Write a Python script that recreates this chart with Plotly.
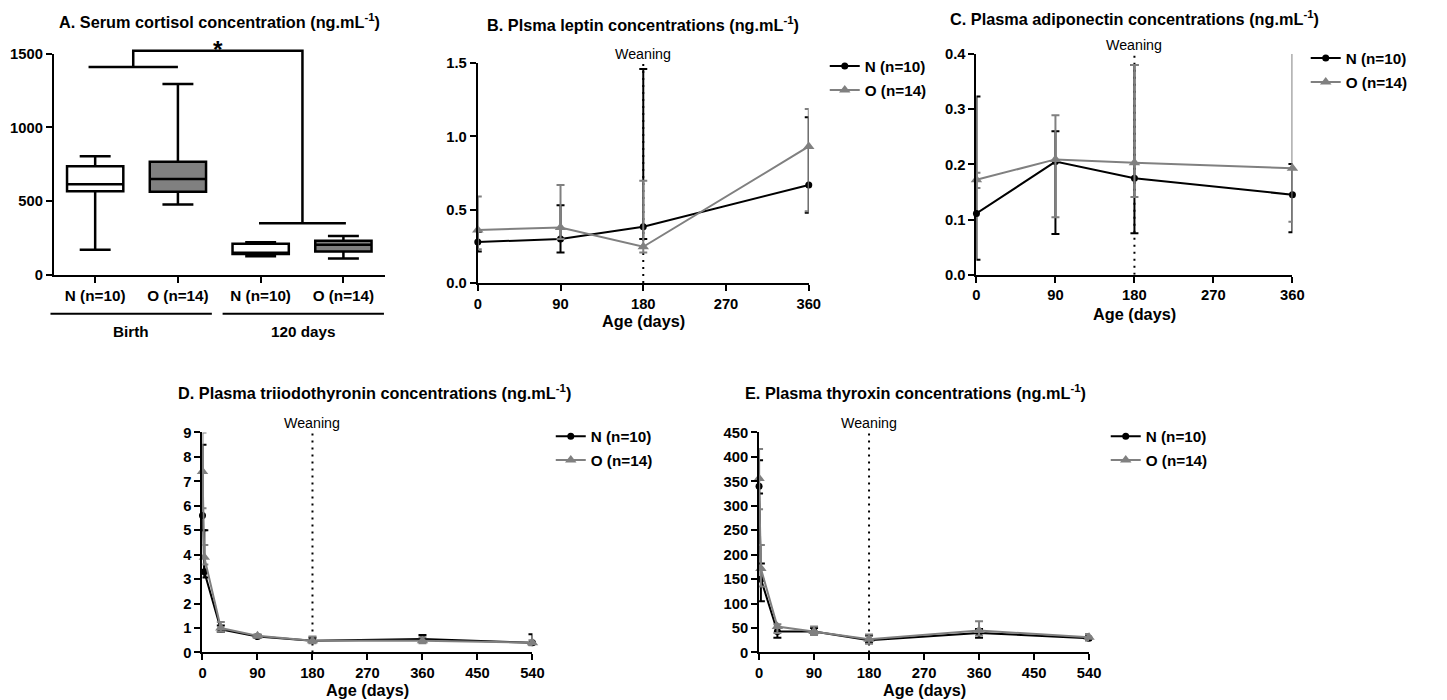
import plotly.graph_objects as go

W, H = 1447, 700

# ---------------- Data ----------------
a_labels = ["N (n=10)", "O (n=14)", "N (n=10)", "O (n=14)"]
a_min = [170, 476, 125, 111]
a_q1 = [566, 564, 140, 158]
a_med = [614, 650, 150, 204]
a_q3 = [736, 766, 210, 231]
a_max = [804, 1295, 220, 263]
a_periods = ["Birth", "120 days"]

days_bc = [0, 90, 180, 360]
lep_N = [0.28, 0.30, 0.384, 0.668]
lep_N_hi = [0.35, 0.53, 1.46, 1.13]
lep_N_lo = [0.215, 0.209, 0.30, 0.48]
lep_O = [0.361, 0.379, 0.247, 0.931]
lep_O_hi = [0.59, 0.668, 0.698, 1.186]
lep_O_lo = [0.23, 0.30, 0.209, 0.49]

adi_N = [0.111, 0.205, 0.175, 0.145]
adi_N_hi = [0.323, 0.26, 0.38, 0.2006]
adi_N_lo = [0.027, 0.074, 0.075, 0.077]
adi_O = [0.172, 0.209, 0.203, 0.193]
adi_O_hi = [0.185, 0.289, 0.38, 0.50]
adi_O_lo = [0.157, 0.104, 0.141, 0.096]

days_de = [0, 3, 30, 90, 180, 360, 540]
t3_N = [5.6, 3.3, 0.95, 0.65, 0.48, 0.55, 0.40]
t3_N_hi = [8.5, 5.0, 1.10, 0.72, 0.60, 0.72, 0.75]
t3_N_lo = [5.0, 3.07, 0.85, 0.60, 0.42, 0.45, 0.32]
t3_O = [7.4, 3.9, 1.00, 0.68, 0.48, 0.48, 0.40]
t3_O_hi = [9.0, 4.4, 1.25, 0.75, 0.65, 0.62, 0.50]
t3_O_lo = [5.9, 3.6, 0.85, 0.60, 0.38, 0.38, 0.30]

t4_N = [340, 150, 43, 43, 25, 40, 29]
t4_N_hi = [393, 182, 50, 50, 35, 48, 33]
t4_N_lo = [325, 105, 30, 37, 20, 30, 25]
t4_O = [356, 172, 53, 43, 27, 45, 31]
t4_O_hi = [416, 220, 58, 53, 37, 64, 38]
t4_O_lo = [293, 135, 40, 37, 18, 35, 25]

weaning_day = 180
series_names = ["N (n=10)", "O (n=14)"]

FONT = "Liberation Sans, Arial, sans-serif"
BLACK = "#000000"
GRAY = "#808080"

# measured mapping from figure pixels to the photographed picture
SX, SY, OX, OY = 0.989, 0.977, 11.2, 15.3
FS = 1.0 / ((SX + SY) / 2)


def fs(v):
    return round(v * FS, 2)


def px(x):
    return ((x - OX) / SX) / W


def py(y):
    return 1 - ((y - OY) / SY) / H


def xdom(a, b):
    return [px(a), px(b)]


def ydom(top, bottom):
    return [py(bottom), py(top)]


def axis_style(**kw):
    d = dict(showline=True, linecolor=BLACK, linewidth=2, ticks="outside",
             ticklen=6, tickwidth=2, tickcolor=BLACK, showgrid=False,
             zeroline=False, fixedrange=True,
             tickfont=dict(family=FONT, size=fs(14.5), color=BLACK, weight="bold"))
    d.update(kw)
    return d


# target picture pixel boxes: (left, right, top, bottom)
PA = (53, 384, 53, 274)
PB = (477, 808, 62.3, 282.3)
PC = (975.7, 1291.7, 53.3, 274)
PD = (201.7, 531.7, 431.7, 651.7)
PE = (758.3, 1088.3, 431.7, 651.7)

A_XR = [-0.5, 3.5]
A_YR = [0, 1500]


def a_to_paper(xv, yv):
    l, r, t, b = PA
    xpix = l + (xv - A_XR[0]) / (A_XR[1] - A_XR[0]) * (r - l)
    ypix = b - (yv - A_YR[0]) / (A_YR[1] - A_YR[0]) * (b - t)
    return px(xpix), py(ypix)


fig = go.Figure()

a_pos = list(range(len(a_labels)))
for idxs, fill in (([0, 2], "white"), ([1, 3], GRAY)):
    fig.add_trace(go.Box(
        x=[a_pos[i] for i in idxs],
        q1=[a_q1[i] for i in idxs], median=[a_med[i] for i in idxs],
        q3=[a_q3[i] for i in idxs],
        lowerfence=[a_min[i] for i in idxs], upperfence=[a_max[i] for i in idxs],
        fillcolor=fill, line=dict(color=BLACK, width=2.5), width=0.68,
        whiskerwidth=0.55, boxpoints=False, showlegend=False, hoverinfo="skip",
        xaxis="x", yaxis="y"))


def add_series(xs, ys, hi, lo, color, symbol, msize, xa, ya, leg, name, grp):
    fig.add_trace(go.Scatter(
        x=xs, y=ys, name=name, mode="lines+markers",
        line=dict(color=color, width=2),
        marker=dict(symbol=symbol, size=msize, color=color),
        error_y=dict(type="data", symmetric=False,
                     array=[h - v for h, v in zip(hi, ys)],
                     arrayminus=[v - l for v, l in zip(ys, lo)],
                     color=color, thickness=2, width=4),
        xaxis=xa, yaxis=ya, legend=leg, legendgroup=grp, cliponaxis=False))


panels = [
    ("x2", "y2", "legend", days_bc, lep_N, lep_N_hi, lep_N_lo, lep_O, lep_O_hi, lep_O_lo),
    ("x3", "y3", "legend2", days_bc, adi_N, adi_N_hi, adi_N_lo, adi_O, adi_O_hi, adi_O_lo),
    ("x4", "y4", "legend3", days_de, t3_N, t3_N_hi, t3_N_lo, t3_O, t3_O_hi, t3_O_lo),
    ("x5", "y5", "legend4", days_de, t4_N, t4_N_hi, t4_N_lo, t4_O, t4_O_hi, t4_O_lo),
]
for xa, ya, leg, xs, nN, nhi, nlo, oO, ohi, olo in panels:
    add_series(xs, nN, nhi, nlo, BLACK, "circle", 7, xa, ya, leg, series_names[0], leg + "N")
    add_series(xs, oO, ohi, olo, GRAY, "triangle-up", 10, xa, ya, leg, series_names[1], leg + "O")

fig.update_layout(
    xaxis=axis_style(domain=xdom(PA[0], PA[1]), range=A_XR, tickvals=a_pos,
                     ticktext=a_labels, anchor="y",
                     tickfont=dict(family=FONT, size=fs(15), color=BLACK, weight="bold")),
    yaxis=axis_style(domain=ydom(PA[2], PA[3]), range=A_YR,
                     tickvals=[0, 500, 1000, 1500], anchor="x"),
    xaxis2=axis_style(domain=xdom(PB[0], PB[1]), range=[0, 360],
                      tickvals=[0, 90, 180, 270, 360], anchor="y2"),
    yaxis2=axis_style(domain=ydom(PB[2], PB[3]), range=[0, 1.5],
                      tickvals=[0, 0.5, 1.0, 1.5], tickformat=".1f", anchor="x2"),
    xaxis3=axis_style(domain=xdom(PC[0], PC[1]), range=[0, 360],
                      tickvals=[0, 90, 180, 270, 360], anchor="y3"),
    yaxis3=axis_style(domain=ydom(PC[2], PC[3]), range=[0, 0.4],
                      tickvals=[0, 0.1, 0.2, 0.3, 0.4], tickformat=".1f", anchor="x3"),
    xaxis4=axis_style(domain=xdom(PD[0], PD[1]), range=[0, 540],
                      tickvals=list(range(0, 541, 90)), anchor="y4"),
    yaxis4=axis_style(domain=ydom(PD[2], PD[3]), range=[0, 9],
                      tickvals=list(range(0, 10)), anchor="x4"),
    xaxis5=axis_style(domain=xdom(PE[0], PE[1]), range=[0, 540],
                      tickvals=list(range(0, 541, 90)), anchor="y5"),
    yaxis5=axis_style(domain=ydom(PE[2], PE[3]), range=[0, 450],
                      tickvals=list(range(0, 451, 50)), anchor="x5"),
)

leg_common = dict(font=dict(family=FONT, size=fs(15), color=BLACK, weight="bold"),
                  bgcolor="rgba(0,0,0,0)", xanchor="left", yanchor="top",
                  traceorder="grouped", tracegroupgap=1, itemwidth=30)
fig.update_layout(
    legend=dict(x=px(824), y=py(49), **leg_common),
    legend2=dict(x=px(1305), y=py(41), **leg_common),
    legend3=dict(x=px(550), y=py(419), **leg_common),
    legend4=dict(x=px(1105), y=py(419), **leg_common),
)

ann = []
title_font = dict(family=FONT, size=fs(16), color=BLACK, weight="bold")
titles = [
    ("A. Serum cortisol concentration (ng.mL<sup>-1</sup>)", 219, 20),
    ("B. Plsma leptin concentrations (ng.mL<sup>-1</sup>)", 642, 23),
    ("C. Plasma adiponectin concentrations (ng.mL<sup>-1</sup>)", 1134, 17),
    ("D. Plasma triiodothyronin concentrations (ng.mL<sup>-1</sup>)", 374, 391),
    ("E. Plasma thyroxin concentrations (ng.mL<sup>-1</sup>)", 915, 391),
]
for t, cx, cy in titles:
    ann.append(dict(text=t, x=px(cx), y=py(cy), xref="paper", yref="paper",
                    showarrow=False, xanchor="center", yanchor="middle", font=title_font))

age_font = dict(family=FONT, size=fs(16), color=BLACK, weight="bold")
for (l, r, t, b), yy in ((PB, 320), (PC, 313), (PD, 689), (PE, 689)):
    ann.append(dict(text="Age (days)", x=px((l + r) / 2), y=py(yy), xref="paper",
                    yref="paper", showarrow=False, xanchor="center", yanchor="middle",
                    font=age_font))

shapes = []
for xa, ya, ytop in (("x2", "y2", 1.5), ("x3", "y3", 0.4), ("x4", "y4", 9), ("x5", "y5", 450)):
    shapes.append(dict(type="line", xref=xa, yref=ya, x0=weaning_day, x1=weaning_day,
                       y0=0, y1=ytop, line=dict(color=BLACK, width=2, dash="2px,5px"),
                       layer="below"))
    ann.append(dict(text="Weaning", x=weaning_day, y=ytop, xref=xa, yref=ya,
                    showarrow=False, xanchor="center", yanchor="bottom", yshift=-1,
                    font=dict(family=FONT, size=fs(14), color=BLACK)))

birth_lo, birth_hi = -0.08, 1.0
late_lo, late_hi = 1.98, 3.03
birth_y, late_y, top_y = 1410, 349, 1520
bc = (birth_lo + birth_hi) / 2
lc = (late_lo + late_hi) / 2
bracket_pts = [
    [(birth_lo, birth_y), (birth_hi, birth_y)],
    [(bc, birth_y), (bc, top_y), (lc, top_y), (lc, late_y)],
    [(late_lo, late_y), (late_hi, late_y)],
]
for seg in bracket_pts:
    pts = [a_to_paper(xv, yv) for xv, yv in seg]
    path = "M" + " L".join(f"{x},{y}" for x, y in pts)
    shapes.append(dict(type="path", xref="paper", yref="paper", path=path,
                       line=dict(color=BLACK, width=2.5)))
sx, sy = a_to_paper((bc + lc) / 2, 1530)
ann.append(dict(text="<b>*</b>", x=sx, y=sy, xref="paper", yref="paper", showarrow=False,
                xanchor="center", yanchor="middle", font=dict(family=FONT, size=fs(24), color=BLACK)))

for (g0, g1), lab in zip(((-0.54, 1.41), (1.54, 3.49)), a_periods):
    x0p, _ = a_to_paper(g0, 0)
    x1p, _ = a_to_paper(g1, 0)
    shapes.append(dict(type="line", xref="paper", yref="paper", x0=x0p, x1=x1p,
                       y0=py(313), y1=py(313), line=dict(color=BLACK, width=2)))
    ann.append(dict(text=lab, x=(x0p + x1p) / 2, y=py(331), xref="paper", yref="paper",
                    showarrow=False, xanchor="center", yanchor="middle",
                    font=dict(family=FONT, size=fs(15), color=BLACK, weight="bold")))

fig.update_layout(
    width=W, height=H, margin=dict(l=0, r=0, t=0, b=0),
    paper_bgcolor="white", plot_bgcolor="white",
    boxmode="overlay", annotations=ann, shapes=shapes,
    font=dict(family=FONT, color=BLACK),
)

fig.write_html("out.html")
